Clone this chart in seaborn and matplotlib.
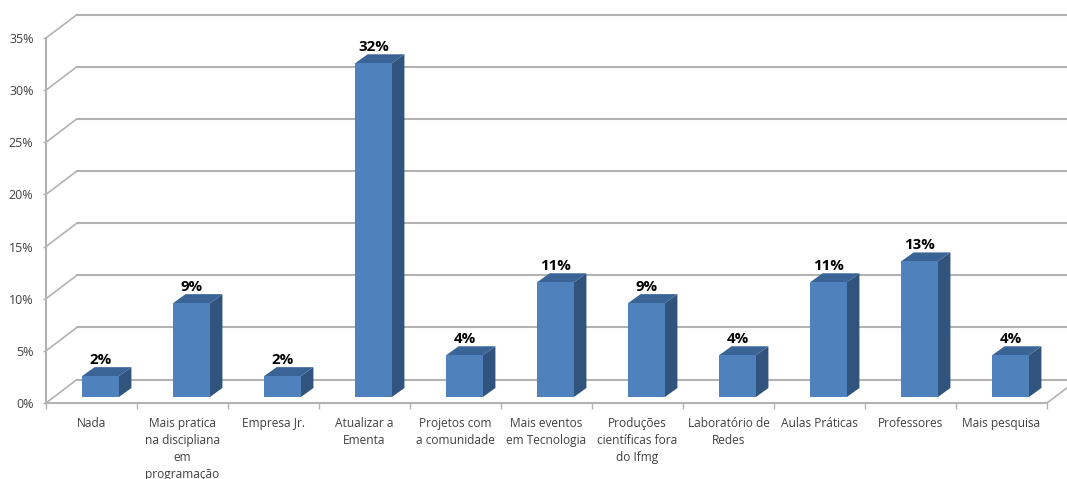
import matplotlib
matplotlib.use("Agg")
import matplotlib.pyplot as plt
from matplotlib.patches import Polygon
from matplotlib.transforms import Affine2D, IdentityTransform
import seaborn as sns
import pandas as pd

categories = ["Nada", "Mais pratica\nna discipliana\nem\nprogramação", "Empresa Jr.",
              "Atualizar a\nEmenta", "Projetos com\na comunidade", "Mais eventos\nem Tecnologia",
              "Produções\ncientíficas fora\ndo Ifmg", "Laboratório de\nRedes", "Aulas Práticas",
              "Professores", "Mais pesquisa"]
values = [2, 9, 2, 32, 4, 11, 9, 4, 11, 13, 4]
y_ticks = [0, 5, 10, 15, 20, 25, 30, 35]

W, H = 1067, 479
FRONT, SIDE, TOP = "#4F81BD", "#31547F", "#3A6396"
GRID, TEXT = "#B2B2B2", "#404040"
WALL = (31, 23.5)      # depth of the chart box, px
BAR_SHIFT = (9, 6)     # bar front face inside the box, px
BAR_DEPTH = (12.5, 9)  # depth of a bar, px

sns.set_theme(style="white")
plt.rcParams["font.family"] = ["Open Sans", "DejaVu Sans"]

fig = plt.figure(figsize=(W / 100, H / 100), dpi=100, facecolor="white")
ax = fig.add_axes([46 / W, 1 - 403 / H, 1001 / W, 365 / H])
df = pd.DataFrame({"cat": categories, "val": values})
sns.barplot(data=df, x="cat", y="val", color=FRONT, saturation=1, width=0.405, ax=ax, zorder=4,
            edgecolor="none", linewidth=0)
ax.set_xlim(-0.5, len(categories) - 0.5)
ax.set_ylim(0, 35)
ax.set_xlabel("")
ax.set_ylabel("")
ax.patch.set_alpha(0)

# box: back wall, left wall, floor
back = ax.transData + Affine2D().translate(*WALL)
for t in y_ticks:
    ax.plot([-0.5, len(categories) - 0.5], [t, t], color=GRID, lw=1.5, transform=back,
            clip_on=False, zorder=1)
    x0, y0 = ax.transData.transform((-0.5, t))
    ax.plot([x0, x0 + WALL[0]], [y0, y0 + WALL[1]], color=GRID, lw=1.2,
            transform=IdentityTransform(), clip_on=False, zorder=1)
x1, y1 = ax.transData.transform((len(categories) - 0.5, 0))
ax.plot([x1, x1 + WALL[0]], [y1, y1 + WALL[1]], color=GRID, lw=1.2,
        transform=IdentityTransform(), clip_on=False, zorder=1)

# bars with their side and top faces
shift = ax.transData + Affine2D().translate(*BAR_SHIFT)
dx, dy = BAR_DEPTH
for patch, v in zip(ax.patches, values):
    patch.set_transform(shift)
    patch.set_clip_on(False)
    left, w = patch.get_x(), patch.get_width()
    (xa, yb), (xb, yt) = shift.transform([(left, 0), (left + w, v)])
    ax.add_patch(Polygon([(xb, yb), (xb + dx, yb + dy), (xb + dx, yt + dy), (xb, yt)],
                         facecolor=SIDE, edgecolor="none", transform=IdentityTransform(),
                         clip_on=False, zorder=3))
    ax.add_patch(Polygon([(xa, yt), (xb, yt), (xb + dx, yt + dy), (xa + dx, yt + dy)],
                         facecolor=TOP, edgecolor="none", transform=IdentityTransform(),
                         clip_on=False, zorder=3))
    ax.annotate(f"{v}%", xy=(left + w / 2, v), xycoords=shift, xytext=(0, 16 * 0.72),
                textcoords="offset points", ha="center", va="center", fontsize=10.8,
                fontweight="bold", color="black", zorder=6, annotation_clip=False)

# axes
for s in ("top", "right"):
    ax.spines[s].set_visible(False)
for s in ("left", "bottom"):
    ax.spines[s].set_color(GRID)
    ax.spines[s].set_linewidth(1.5)
ax.set_yticks(y_ticks)
ax.set_yticklabels([f"{t}%" for t in y_ticks], fontsize=9, color=TEXT)
ax.tick_params(axis="y", left=True, length=2.5, width=1, color=GRID, pad=6.5)
ax.set_xticks([i - 0.5 for i in range(len(categories) + 1)], minor=True)
ax.tick_params(axis="x", which="minor", bottom=True, length=4.5, width=1, color=GRID)
ax.set_xticks(range(len(categories)))
ax.set_xticklabels(categories, fontsize=8.6, color=TEXT, linespacing=1.4)
ax.tick_params(axis="x", which="major", bottom=False, pad=4)

fig.savefig("out.png", dpi=100, facecolor="white")
